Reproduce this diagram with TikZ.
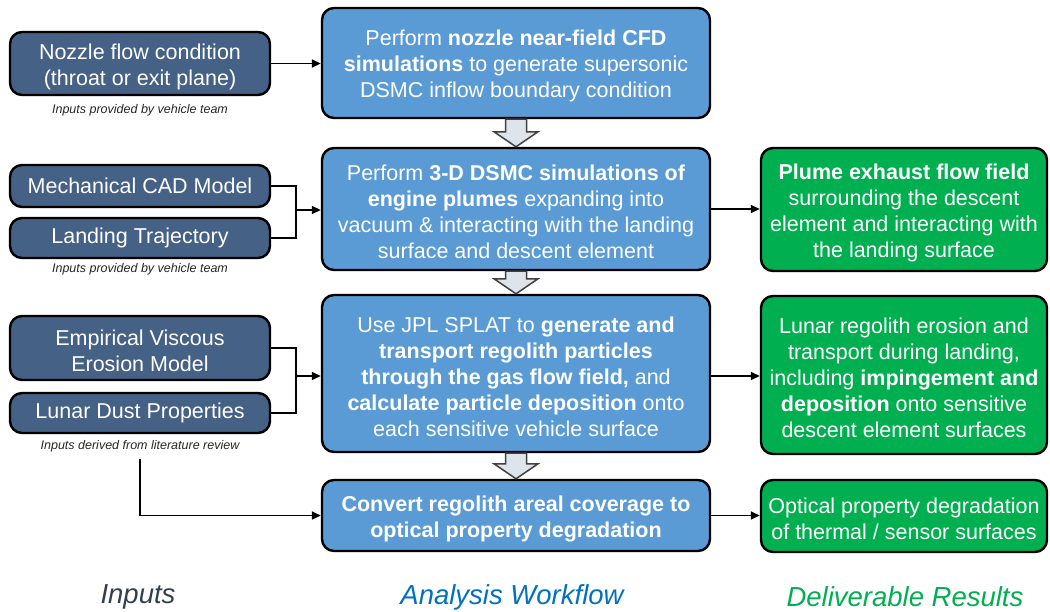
\documentclass[tikz,border=0pt]{standalone}
\usepackage{fontspec}
\setmainfont{Liberation Sans}
\usetikzlibrary{arrows.meta,calc}

\definecolor{inputfill}{HTML}{456185}
\definecolor{workfill}{HTML}{5B9BD5}
\definecolor{resultfill}{HTML}{00B050}
\definecolor{blockfill}{HTML}{DEE4EC}
\definecolor{blockline}{HTML}{404040}
\definecolor{inputhead}{HTML}{333F50}
\definecolor{workhead}{HTML}{0070C0}
\definecolor{resulthead}{HTML}{00B050}
\definecolor{captext}{HTML}{262626}

% taller first line, so stacked text sits a little lower in its box
\newcommand\topstrut{\rule{0pt}{22pt}}

\tikzset{
  box/.style={draw=black, line width=2.4pt, rounded corners=12pt,
    text=white, align=center, inner sep=0pt,
    font=\fontsize{21.5}{26}\selectfont},
  inbox/.style={box, fill=inputfill, minimum width=260pt},
  workbox/.style={box, fill=workfill, minimum width=388pt},
  resbox/.style={box, fill=resultfill, minimum width=286pt},
  caption/.style={font=\fontsize{12.5}{15}\selectfont\itshape, text=captext, inner sep=0pt},
  heading/.style={font=\fontsize{27.5}{32}\selectfont\itshape, inner sep=0pt},
  link/.style={line width=1.6pt, draw=black},
  linkarrow/.style={link, -{Triangle[length=9pt,width=8pt]}},
  blockarrow/.style={draw=blockline, line width=1.5pt, fill=blockfill, line join=miter}
}

% hollow down arrow from the bottom of one box to the top of the next
\newcommand\stagearrow[2]{%
  \path let \p1=(#1.south), \p2=(#2.north) in
    [blockarrow] (\x1-10.5pt,\y1) -- (\x1-10.5pt,\y2+15pt) -- (\x1-22pt,\y2+15pt)
    -- (\x1,\y2) -- (\x1+22pt,\y2+15pt) -- (\x1+10.5pt,\y2+15pt)
    -- (\x1+10.5pt,\y1) -- cycle;}

\begin{document}
\begin{tikzpicture}[x=1pt,y=-1pt]
\useasboundingbox (0,0) rectangle (1050,611);

% inputs column
\node[inbox, minimum height=63pt] (nozzle) at (140,63.5)
  {\topstrut Nozzle flow condition\\(throat or exit plane)};
\node[caption] (cap1) at (140,110) {Inputs provided by vehicle team};
\node[inbox, minimum height=42pt] (cad) at (140,186) {Mechanical CAD Model};
\node[inbox, minimum height=40pt] (traj) at (140,238) {Landing Trajectory};
\node[caption] (cap2) at (140,269.5) {Inputs provided by vehicle team};
\node[inbox, minimum height=64pt] (visc) at (140,348) {\topstrut Empirical Viscous\\Erosion Model};
\node[inbox, minimum height=40pt] (dust) at (140,413) {Lunar Dust Properties};
\node[caption] (cap3) at (140,446.5) {Inputs derived from literature review};

% analysis workflow column
\node[workbox, minimum height=110pt] (cfd) at (516,63)
  {\topstrut Perform \textbf{nozzle near-field CFD}\\\textbf{simulations} to generate supersonic\\DSMC inflow boundary condition};
\node[workbox, minimum height=122pt] (dsmc) at (516,209)
  {\topstrut Perform \textbf{3-D DSMC simulations of}\\\textbf{engine plumes} expanding into\\vacuum \& interacting with the landing\\surface and descent element};
\node[workbox, minimum height=157pt] (splat) at (516,373.5)
  {\topstrut Use JPL SPLAT to \textbf{generate and}\\\textbf{transport regolith particles}\\\textbf{through the gas flow field,} and\\\textbf{calculate particle deposition} onto\\each sensitive vehicle surface};
\node[workbox, minimum height=71pt] (optic) at (516,515.5)
  {\topstrut\textbf{Convert regolith areal coverage to}\\\textbf{optical property degradation}};

% deliverable results column
\node[resbox, minimum height=123pt] (plume) at (904,209.5)
  {\topstrut\textbf{Plume exhaust flow field}\\surrounding the descent\\element and interacting with\\the landing surface};
\node[resbox, minimum height=158pt] (erosion) at (904,375)
  {\topstrut Lunar regolith erosion and\\transport during landing,\\including \textbf{impingement and}\\\textbf{deposition} onto sensitive\\descent element surfaces};
\node[resbox, minimum height=72pt] (degrade) at (904,516)
  {\topstrut Optical property degradation\\of thermal / sensor surfaces};

% column headings
\node[heading, text=inputhead] (h1) at (138,597) {Inputs};
\node[heading, text=workhead] (h2) at (512,597) {Analysis Workflow};
\node[heading, text=resulthead] (h3) at (905,597) {Deliverable Results};

% junction points of the merging input lines
\coordinate (j1) at (296,210);
\coordinate (j2) at (296,376);
\coordinate (lit) at (140,459);

% connectors
\draw[linkarrow] (nozzle.east) -- (nozzle.east -| cfd.west);
\draw[link] (cad.east) -| (j1) |- (traj.east);
\draw[linkarrow] (j1) -- (j1 -| dsmc.west);
\draw[link] (visc.east) -| (j2) |- (dust.east);
\draw[linkarrow] (j2) -- (j2 -| splat.west);
\draw[linkarrow] (lit) |- (optic.west);
\draw[linkarrow] (dsmc.east) -- (dsmc.east -| plume.west);
\draw[linkarrow] (j2 -| splat.east) -- (j2 -| erosion.west);
\draw[linkarrow] (optic.east) -- (optic.east -| degrade.west);

% stage arrows
\stagearrow{cfd}{dsmc}
\stagearrow{dsmc}{splat}
\stagearrow{splat}{optic}
\end{tikzpicture}
\end{document}
